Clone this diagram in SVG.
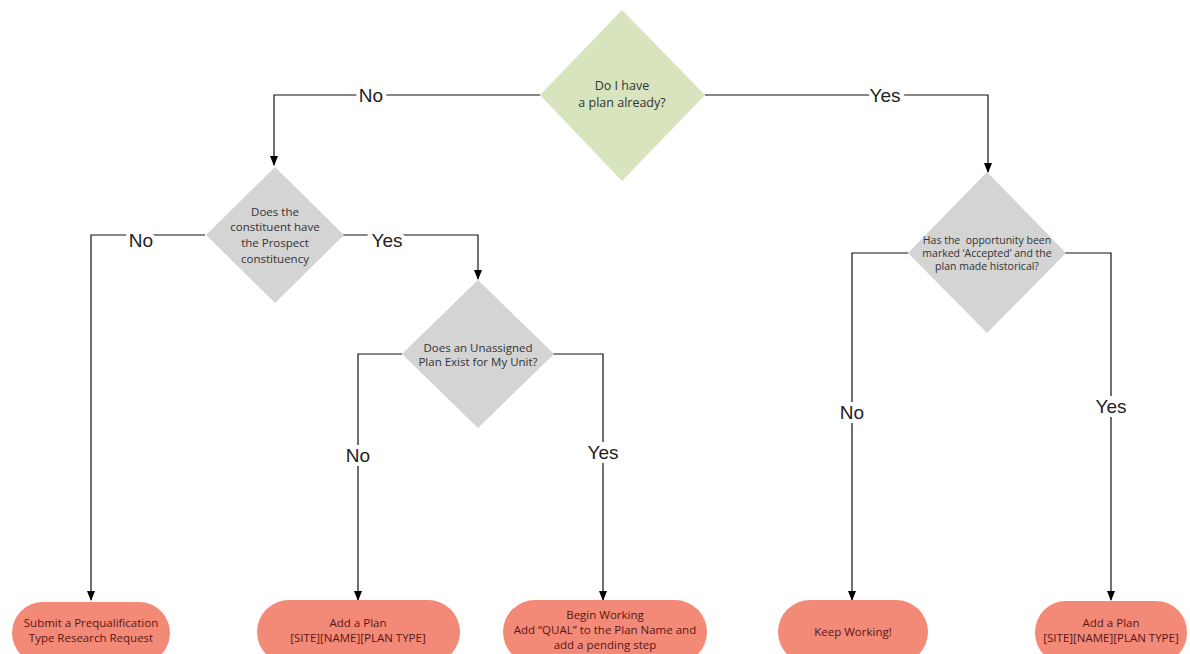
<svg xmlns="http://www.w3.org/2000/svg" width="1190" height="654" viewBox="0 0 1190 654">
<defs>
<marker id="arr" markerWidth="10" markerHeight="8" refX="9" refY="4" orient="auto" markerUnits="userSpaceOnUse">
<path d="M0,0 L10,4 L0,8 z" fill="#000"/>
</marker>
<style>
.c{fill:none;stroke:#111;stroke-width:1.2}
.lbl{font-family:"Liberation Sans",Arial,sans-serif;font-size:19px;fill:#222;text-anchor:middle;dominant-baseline:central;paint-order:stroke;stroke:#fff;stroke-width:8px}
.dt{font-family:"Open Sans","Liberation Sans",sans-serif;font-size:11.5px;fill:#333;text-anchor:middle}
.st{font-family:"Open Sans","Liberation Sans",sans-serif;font-size:11.5px;fill:#5a1515;text-anchor:middle}
.g{fill:#d7e4bd}
.d{fill:#d4d4d4}
.t{fill:#f38a78}
</style>
</defs>
<rect width="1190" height="654" fill="#fff"/>
<g id="connectors">
<path class="c" d="M540,95 H274 V165" marker-end="url(#arr)"/>
<path class="c" d="M705,95 H988 V172" marker-end="url(#arr)"/>
<path class="c" d="M205,235 H91 V600" marker-end="url(#arr)"/>
<path class="c" d="M343,235 H478 V279" marker-end="url(#arr)"/>
<path class="c" d="M402,354 H358 V600" marker-end="url(#arr)"/>
<path class="c" d="M553,354 H603 V600" marker-end="url(#arr)"/>
<path class="c" d="M908,253 H852 V600" marker-end="url(#arr)"/>
<path class="c" d="M1065,253 H1111 V600" marker-end="url(#arr)"/>
<text class="lbl" x="371" y="95">No</text>
<text class="lbl" x="885" y="95">Yes</text>
<text class="lbl" x="141" y="240">No</text>
<text class="lbl" x="387" y="240">Yes</text>
<text class="lbl" x="358" y="455">No</text>
<text class="lbl" x="603" y="452">Yes</text>
<text class="lbl" x="852" y="412">No</text>
<text class="lbl" x="1111" y="406">Yes</text>
</g>
<g id="q1">
<polygon class="g" points="622,10 705,95 622,181 540,95"/>
<text class="dt" x="622" y="90" style="font-size:12.5px">Do I have</text>
<text class="dt" x="622" y="107" style="font-size:12.5px">a plan already?</text>
</g>
<g id="q2">
<polygon class="d" points="275,167 344,235 275,303 206,235"/>
<text class="dt" x="275" y="216">Does the</text>
<text class="dt" x="275" y="231">constituent have</text>
<text class="dt" x="275" y="247">the Prospect</text>
<text class="dt" x="275" y="263">constituency</text>
</g>
<g id="q3">
<polygon class="d" points="478,280 554,354 478,428 402,354"/>
<text class="dt" x="478" y="352">Does an Unassigned</text>
<text class="dt" x="478" y="366">Plan Exist for My Unit?</text>
</g>
<g id="q4">
<polygon class="d" points="987,172 1066,253 987,333 908,253"/>
<text class="dt" x="987" y="244" style="font-size:10.5px;white-space:pre">Has the  opportunity been</text>
<text class="dt" x="987" y="257" style="font-size:10.5px">marked ‘Accepted’ and the</text>
<text class="dt" x="987" y="270" style="font-size:10.5px">plan made historical?</text>
</g>
<g id="t1">
<rect class="t" x="12" y="602" width="158" height="62" rx="31"/>
<text class="st" x="91" y="627">Submit a Prequalification</text>
<text class="st" x="91" y="642">Type Research Request</text>
</g>
<g id="t2">
<rect class="t" x="257" y="600" width="203" height="64" rx="32"/>
<text class="st" x="358" y="627">Add a Plan</text>
<text class="st" x="358" y="642">[SITE][NAME][PLAN TYPE]</text>
</g>
<g id="t3">
<rect class="t" x="503" y="600" width="204" height="64" rx="32"/>
<text class="st" x="605" y="619">Begin Working</text>
<text class="st" x="605" y="634">Add “QUAL” to the Plan Name and</text>
<text class="st" x="605" y="649">add a pending step</text>
</g>
<g id="t4">
<rect class="t" x="778" y="600" width="150" height="64" rx="32"/>
<text class="st" x="853" y="636">Keep Working!</text>
</g>
<g id="t5">
<rect class="t" x="1035" y="601" width="152" height="63" rx="31"/>
<text class="st" x="1111" y="627">Add a Plan</text>
<text class="st" x="1111" y="642">[SITE][NAME][PLAN TYPE]</text>
</g>
</svg>
